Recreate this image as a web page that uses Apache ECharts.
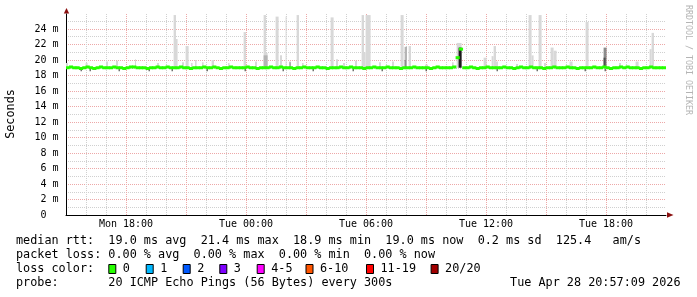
<!DOCTYPE html>
<html><head><meta charset="utf-8">
<script src="https://cdn.jsdelivr.net/npm/echarts@6/dist/echarts.min.js"></script>
<style>html,body{margin:0;padding:0;background:#fff}#c{width:697px;height:297px}</style>
</head><body><div id="c"></div>
<script>
// ---------- data ----------
// time axis in hours counted from Mon 00:00
const axisStartHour = 15;      // Mon 15:00
const axisEndHour = 45;        // Tue 21:00
const medianStepHours = 1 / 6; // one median value every 10 minutes, starting at axisStartHour
// median RTT (ms)
const medianRtt = [
  19.0,19.1,19.0,19.0,18.9,19.0,  19.1,19.0,18.9,19.0,19.1,19.0,
  19.0,19.0,19.1,19.0,19.0,18.9,  19.0,19.1,19.1,19.0,19.0,19.0,
  18.9,19.0,19.0,19.1,19.0,19.0,  19.1,19.0,19.0,19.0,19.1,19.0,
  19.0,18.9,19.0,19.0,19.0,19.1,  19.0,19.0,19.1,19.0,18.9,19.0,
  19.0,19.1,19.0,19.0,19.0,19.0,  19.1,19.0,19.0,18.9,19.0,19.0,
  19.0,19.1,19.0,19.0,19.1,19.0,  19.0,19.0,18.9,19.0,19.0,19.1,
  19.0,19.0,19.0,19.1,19.0,19.0,  18.9,19.0,19.0,19.0,19.1,19.0,
  19.0,19.1,19.0,19.0,19.0,18.9,  19.0,19.0,19.1,19.0,19.0,19.0,
  19.1,19.0,19.0,19.0,18.9,19.0,  19.0,19.0,19.1,19.0,19.0,19.0,
  19.0,18.9,19.0,19.1,19.0,19.0,  19.0,19.0,19.1,20.3,21.4,19.0,
  19.0,19.1,19.0,18.9,19.0,19.0,  19.1,19.0,19.0,19.0,19.0,19.1,
  19.0,19.0,18.9,19.0,19.1,19.0,  19.0,19.1,19.0,19.0,19.0,18.9,
  19.0,19.0,19.1,19.0,19.0,19.0,  19.1,19.0,19.0,18.9,19.0,19.0,
  19.0,19.0,19.1,19.0,19.0,19.1,  19.0,18.9,19.0,19.0,19.1,19.0,
  19.1,19.0,19.0,19.0,18.9,19.0,  19.0,19.1,19.0,19.0,19.0,19.0
];
// smoke bands: [startHour, endHour, lowMs, highMs, density(1 light .. 5 dark)]
const smokeBands = [
  [15.00,15.10,19.0,19.6,1],[15.98,16.08,19.0,19.6,1],[17.00,17.10,19.0,19.8,1],[17.50,17.60,19.0,19.9,1],
  [18.45,18.50,19.0,20.1,1],[19.55,19.65,19.0,19.6,1],
  [20.38,20.50,19.0,25.8,1],[20.50,20.58,19.0,22.7,1],[20.80,20.90,19.0,19.7,1],[20.98,21.13,19.0,21.8,1],
  [21.25,21.33,19.0,19.6,1],[21.45,21.53,19.0,20.0,1],[21.80,21.88,19.0,19.7,1],[22.28,22.40,19.0,20.0,1],
  [23.10,23.18,19.0,19.6,1],[23.88,24.00,19.0,23.6,1],[24.45,24.55,19.0,19.8,1],
  [24.88,25.00,19.0,25.8,1],[25.00,25.08,19.0,20.9,1],[24.88,25.08,19.0,20.6,2],
  [25.48,25.63,19.0,25.6,1],[25.70,25.80,19.0,20.6,1],[25.98,26.03,19.0,25.6,1],[26.15,26.25,19.0,19.8,1],
  [26.18,26.23,19.0,19.7,3],[26.53,26.65,19.0,25.8,1],[26.80,26.88,19.0,19.6,1],
  [28.23,28.38,19.0,25.5,1],[28.50,28.60,19.0,20.1,1],[28.85,28.95,19.0,19.6,1],[29.45,29.55,19.0,19.9,1],
  [29.78,29.90,19.0,25.8,1],[29.90,29.98,19.0,21.0,1],[29.98,30.23,19.0,25.8,1],[30.65,30.75,19.0,19.7,1],
  [31.30,31.40,19.0,19.8,1],[31.73,31.88,19.0,25.8,1],[31.93,32.05,19.0,21.7,2],[31.93,32.00,19.0,20.0,3],
  [32.13,32.25,19.0,21.8,1],[32.95,33.10,19.0,19.4,1],[34.30,34.38,19.0,19.7,1],
  [34.53,34.78,19.0,22.2,1],[34.63,34.78,19.0,21.6,5],
  [35.88,36.03,19.0,20.3,1],[36.28,36.38,19.0,20.5,1],[36.38,36.50,19.0,21.8,1],[36.50,36.60,19.0,19.8,1],
  [37.50,37.60,19.0,19.5,1],[38.13,38.28,19.0,25.8,1],[38.28,38.38,19.0,20.6,1],[38.63,38.78,19.0,25.8,1],
  [38.90,39.00,19.0,19.6,1],[39.23,39.38,19.0,21.6,1],[39.38,39.53,19.0,21.2,1],[40.18,40.33,19.0,19.8,1],
  [40.98,41.13,19.0,24.9,1],[41.88,42.03,19.0,21.6,3],[41.88,41.98,19.0,20.3,4],[42.65,42.75,19.0,19.6,1],
  [43.48,43.63,19.0,19.8,1],[44.18,44.28,19.0,21.4,1],[44.28,44.40,19.0,23.5,1],
  // dark specks just under the median line
  [15.73,15.79,18.55,18.9,4],[16.18,16.24,18.55,18.9,4],[17.63,17.69,18.55,18.9,4],[19.13,19.19,18.55,18.9,4],
  [20.28,20.34,18.55,18.9,4],[22.03,22.09,18.55,18.9,4],[23.93,23.99,18.55,18.9,4],[25.83,25.89,18.55,18.9,4],
  [27.33,27.39,18.55,18.9,4],[29.33,29.39,18.55,18.9,4],[30.78,30.84,18.55,18.9,4],[32.98,33.04,18.55,18.9,4],
  [36.53,36.59,18.55,18.9,4],[38.53,38.59,18.55,18.9,4],[40.93,40.99,18.55,18.9,4],[41.93,41.99,18.55,18.9,4]
];
const yMaxMs = 201 / 7.75;     // top of the value axis (~25.9 ms)
const rttStats = ['19.0', '21.4', '18.9', '19.0']; // avg, max, min, now
const rttSd = '0.2';
const rttAmS = '125.4';
const lossStats = ['0.00', '0.00', '0.00', '0.00'];
const lossLabels = ['0', '1', '2', '3', '4-5', '6-10', '11-19', '20/20'];
const probeText = '20 ICMP Echo Pings (56 Bytes) every 300s';
const stampText = 'Tue Apr 28 20:57:09 2026';

// ---------- styles / layout ----------
const lossColors = ['#26ff00', '#00b8ff', '#0059ff', '#7e00ff', '#ff00ff', '#ff5500', '#ff0000', '#a10000'];
const smokeShades = ['#d8d8d8', '#b4b4b4', '#8c8c8c', '#505050', '#1a1a1a'];
const lossBoxX = [108.3, 145.7, 182.7, 219.3, 256.7, 305.5, 366, 430.6];
const MONO = '"DejaVu Sans Mono", monospace';
const LFS = 11.8;
const RED_GRID = '#eda8a8', GRAY_GRID = '#d0d0d0';

const chart = echarts.init(document.getElementById('c'), null, {renderer: 'canvas'});

function pad2(n) { return (n < 10 ? '0' : '') + n; }
function text(x, y, s, extra) {
  return Object.assign({
    type: 'text', x: x, y: y, silent: true,
    style: {text: s, fontFamily: MONO, fontSize: LFS, fill: '#000', align: 'left', verticalAlign: 'middle'}
  }, extra || {});
}

const row1 = 'median rtt:  ' + rttStats[0] + ' ms avg  ' + rttStats[1] + ' ms max  ' + rttStats[2] +
  ' ms min  ' + rttStats[3] + ' ms now  ' + rttSd + ' ms sd  ' + rttAmS + '   am/s';
const row2 = 'packet loss: ' + lossStats[0] + ' % avg  ' + lossStats[1] + ' % max  ' + lossStats[2] +
  ' % min  ' + lossStats[3] + ' % now';

const graphics = [
  text(16, 241, row1),
  text(16, 255, row2),
  text(16, 269, 'loss color:'),
  text(16, 283, 'probe:       ' + probeText),
  text(680.5, 283, stampText, {style: {text: stampText, fontFamily: MONO, fontSize: LFS, fill: '#000', align: 'right', verticalAlign: 'middle'}}),
  {type: 'text', x: 10.5, y: 114, rotation: Math.PI / 2, silent: true,
   style: {text: 'Seconds', fontFamily: MONO, fontSize: LFS, fill: '#000', align: 'center', verticalAlign: 'middle'}},
  {type: 'text', x: 688, y: 5, rotation: -Math.PI / 2, silent: true,
   style: {text: 'RRDTOOL / TOBI OETIKER', fontFamily: MONO, fontSize: 8.3, fill: '#b4b4b4', align: 'left', verticalAlign: 'middle'}},
  {type: 'polygon', silent: true, shape: {points: [[63.8, 13.5], [69.2, 13.5], [66.5, 8]]}, style: {fill: '#8b1010'}},
  {type: 'polygon', silent: true, shape: {points: [[667, 212.2], [667, 217.8], [673.5, 215]]}, style: {fill: '#8b1010'}}
];
lossLabels.forEach(function (lab, k) {
  graphics.push({type: 'rect', silent: true, shape: {x: lossBoxX[k] + 0.5, y: 264.5, width: 7, height: 9},
    style: {fill: lossColors[k], stroke: '#000', lineWidth: 1}});
  graphics.push(text(lossBoxX[k] + 14.5, 269, lab));
});

const option = {
  animation: false,
  backgroundColor: '#ffffff',
  grid: {left: 66, top: 14, width: 600, height: 201, outerBoundsMode: 'none', containLabel: false},
  xAxis: {
    type: 'value', min: axisStartHour, max: axisEndHour, interval: 1,
    axisLine: {show: true, onZero: false, lineStyle: {color: '#000', width: 1}},
    axisTick: {show: false},
    axisLabel: {
      margin: 4, fontFamily: MONO, fontSize: 10, color: '#000', showMinLabel: true, showMaxLabel: true, hideOverlap: false,
      formatter: function (v) {
        if (v % 6 !== 0) return '';
        return (v < 24 ? 'Mon ' : 'Tue ') + pad2(v % 24) + ':00';
      }
    },
    splitLine: {show: true, showMinLine: true, showMaxLine: false,
      lineStyle: {color: [RED_GRID, GRAY_GRID, GRAY_GRID], type: [1, 1], width: 1}}
  },
  yAxis: {
    type: 'value', min: 0, max: yMaxMs, interval: 1,
    axisLine: {show: true, onZero: false, lineStyle: {color: '#000', width: 1}},
    axisTick: {show: false},
    axisLabel: {
      margin: 7.5, fontFamily: MONO, fontSize: 10, color: '#000', showMaxLabel: false, hideOverlap: false,
      formatter: function (v) {
        if (v === 0) return '0  ';
        return (v % 2 === 0 && v <= 24) ? v + ' m' : '';
      }
    },
    splitLine: {show: true, showMinLine: true, showMaxLine: false,
      lineStyle: {color: [RED_GRID, GRAY_GRID], type: [1, 1], width: 1}}
  },
  series: [
    {
      type: 'custom', clip: true, z: 2,
      data: smokeBands,
      encode: {x: [0, 1], y: [2, 3]},
      renderItem: function (params, api) {
        const p0 = api.coord([api.value(0), api.value(3)]);
        const p1 = api.coord([api.value(1), api.value(2)]);
        return {
          type: 'rect',
          shape: {x: p0[0], y: p0[1], width: Math.max(1, p1[0] - p0[0]), height: p1[1] - p0[1]},
          style: {fill: smokeShades[api.value(4) - 1]}
        };
      }
    },
    {
      // median line: one short horizontal step per sample (as rrdtool draws it)
      type: 'custom', clip: true, z: 3, silent: true,
      data: medianRtt.map(function (v, i) {
        const t = axisStartHour + i * medianStepHours;
        return [t, t + medianStepHours, v];
      }),
      encode: {x: [0, 1], y: 2},
      renderItem: function (params, api) {
        const a = api.coord([api.value(0), api.value(2)]);
        const b = api.coord([api.value(1), api.value(2)]);
        return {
          type: 'line',
          shape: {x1: a[0] - 0.4, y1: a[1], x2: b[0] + 0.4, y2: b[1]},
          style: {stroke: lossColors[0], lineWidth: 3, lineCap: 'butt'}
        };
      }
    }
  ],
  graphic: graphics
};
chart.setOption(option);
</script>
</body></html>
